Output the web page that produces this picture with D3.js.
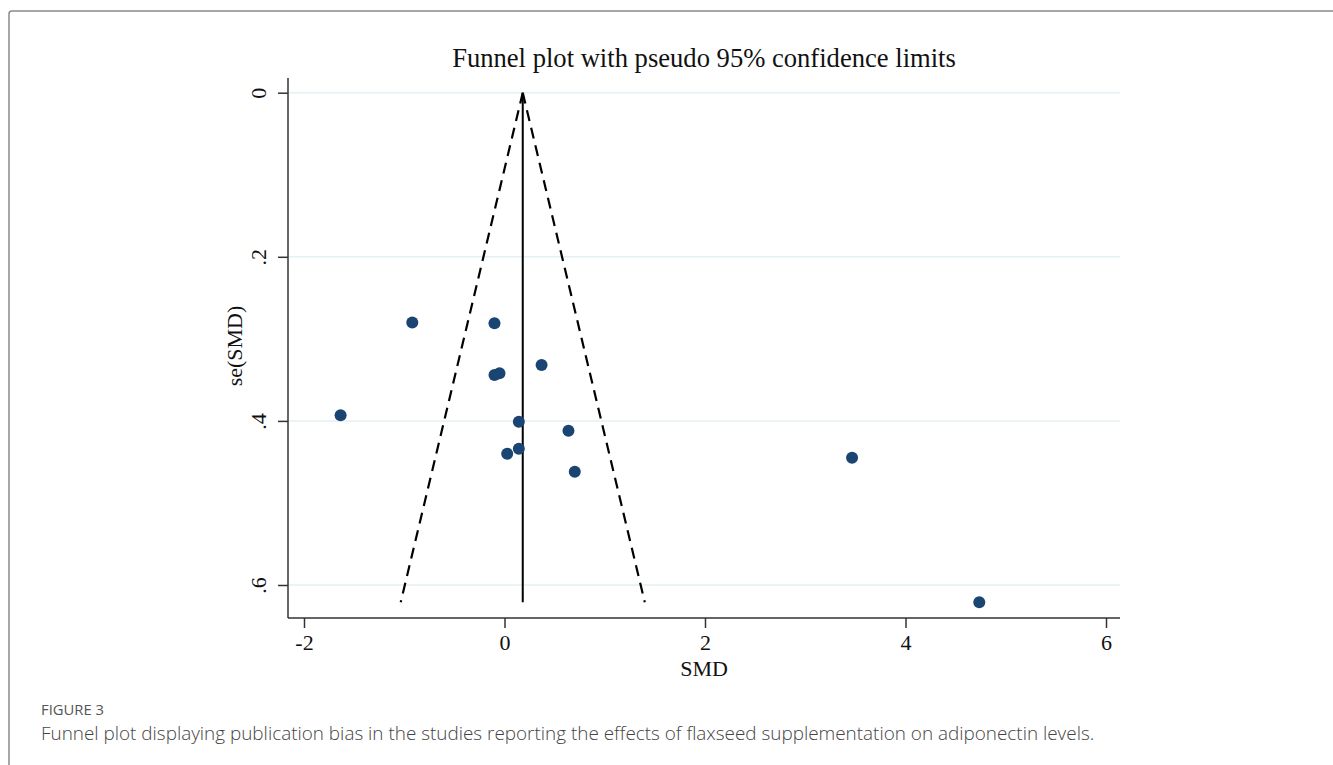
<!DOCTYPE html>
<html>
<head>
<meta charset="utf-8">
<script src="https://cdn.jsdelivr.net/npm/d3@7"></script>
<style>
  html, body { margin: 0; padding: 0; background: #fff; }
  svg { display: block; }
</style>
</head>
<body>
<svg id="chart" width="1333" height="765"></svg>
<script>
// study effect sizes (SMD) and their standard errors
const smd = [-0.92, -0.10, 0.37, -0.10, -0.05, -1.635, 0.143, 0.638, 0.143, 0.027, 0.701, 3.467, 4.736]
const seSmd = [0.280, 0.281, 0.332, 0.344, 0.342, 0.393, 0.401, 0.412, 0.434, 0.440, 0.462, 0.445, 0.621]
const pooled = 0.182
const xTicks = [-2, 0, 2, 4, 6]
const yTicks = [0, 0.2, 0.4, 0.6]

const svg = d3.select('#chart')
const serif = '"Liberation Serif", "Times New Roman", serif'
const sans = '"Open Sans", "Noto Sans", sans-serif'

// outer figure frame
svg.append('rect')
  .attr('x', 9).attr('y', 11)
  .attr('width', 1340).attr('height', 780)
  .attr('rx', 3)
  .attr('fill', 'none')
  .attr('stroke', '#8a8a8a')
  .attr('stroke-width', 1.5)

const plot = { left: 288, right: 1120, top: 78, bottom: 618 }

const x = d3.scaleLinear().domain([-2, 6]).range([304, 1106])
const y = d3.scaleLinear().domain([0, 0.6]).range([92.7, 585])

// gridlines
svg.append('g')
  .selectAll('line')
  .data(yTicks)
  .join('line')
  .attr('x1', plot.left).attr('x2', plot.right)
  .attr('y1', d => y(d)).attr('y2', d => y(d))
  .attr('stroke', '#e6eff3')
  .attr('stroke-width', 1.5)

// axes
const yAxis = svg.append('g')
  .attr('transform', `translate(${plot.left},0)`)
  .call(d3.axisLeft(y).tickValues(yTicks).tickSize(10)
    .tickFormat(d => d === 0 ? '0' : d3.format('.1f')(d).replace(/^0/, '')))
yAxis.select('.domain').attr('d', `M0,${plot.top}V${plot.bottom}`)

const xAxis = svg.append('g')
  .attr('transform', `translate(0,${plot.bottom})`)
  .call(d3.axisBottom(x).tickValues(xTicks).tickSize(10).tickPadding(6)
    .tickFormat(d => String(d)))
xAxis.select('.domain').attr('d', `M${plot.left},0H${plot.right}`)

svg.selectAll('.domain, .tick line')
  .attr('stroke', '#333')
  .attr('stroke-width', 1.5)
svg.selectAll('.tick text')
  .attr('font-family', serif)
  .attr('font-size', 22)
  .attr('fill', '#111')

// stata-style vertical y labels
yAxis.selectAll('.tick text')
  .attr('text-anchor', 'middle')
  .attr('transform', 'rotate(-90)')
  .attr('x', 0)
  .attr('y', -30)
  .attr('dy', '0.35em')

// pseudo 95% confidence limits
const seMax = d3.max(seSmd)
const funnel = [
  [[pooled, 0], [pooled - 1.96 * seMax, seMax]],
  [[pooled, 0], [pooled + 1.96 * seMax, seMax]]
]
const line = d3.line().x(d => x(d[0])).y(d => y(d[1]))

svg.append('g')
  .selectAll('path')
  .data(funnel)
  .join('path')
  .attr('d', line)
  .attr('fill', 'none')
  .attr('stroke', '#000')
  .attr('stroke-width', 2.2)
  .attr('stroke-dasharray', '11,7')

svg.append('path')
  .attr('d', line([[pooled, 0], [pooled, seMax]]))
  .attr('stroke', '#000')
  .attr('stroke-width', 2)

// studies
svg.append('g')
  .selectAll('circle')
  .data(smd.map((d, i) => [d, seSmd[i]]))
  .join('circle')
  .attr('cx', d => x(d[0]))
  .attr('cy', d => y(d[1]))
  .attr('r', 6)
  .attr('fill', '#1a4472')

// titles
svg.append('text')
  .attr('x', (plot.left + plot.right) / 2)
  .attr('y', 67)
  .attr('text-anchor', 'middle')
  .attr('font-family', serif)
  .attr('font-size', 26.6)
  .attr('fill', '#111')
  .text('Funnel plot with pseudo 95% confidence limits')

svg.append('text')
  .attr('x', (plot.left + plot.right) / 2)
  .attr('y', 676)
  .attr('text-anchor', 'middle')
  .attr('font-family', serif)
  .attr('font-size', 22)
  .attr('fill', '#111')
  .text('SMD')

svg.append('text')
  .attr('transform', `translate(242,${(plot.top + plot.bottom) / 2 - 2}) rotate(-90)`)
  .attr('text-anchor', 'middle')
  .attr('font-family', serif)
  .attr('font-size', 22)
  .attr('fill', '#111')
  .text('se(SMD)')

// caption
svg.append('text')
  .attr('x', 41).attr('y', 715)
  .attr('font-family', sans)
  .attr('font-size', 14.8)
  .attr('fill', '#555')
  .text('FIGURE 3')

svg.append('text')
  .attr('x', 41).attr('y', 740)
  .attr('font-family', sans)
  .attr('font-size', 18.9)
  .attr('font-weight', 300)
  .attr('fill', '#444')
  .text('Funnel plot displaying publication bias in the studies reporting the effects of flaxseed supplementation on adiponectin levels.')
</script>
</body>
</html>
